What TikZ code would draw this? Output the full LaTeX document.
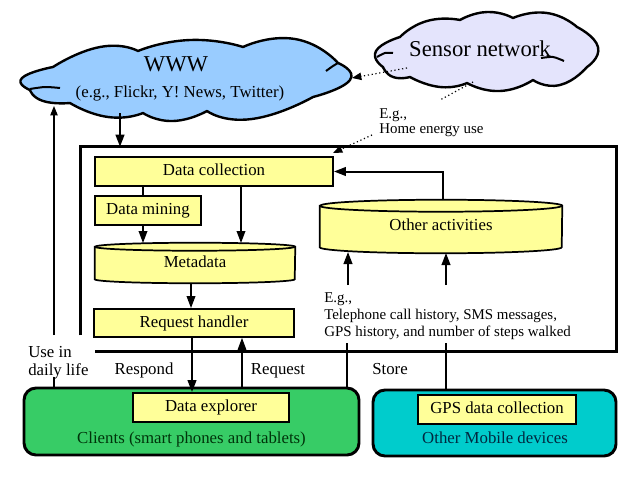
\documentclass[tikz,border=0pt]{standalone}
\usepackage{fontspec}
\setmainfont{Liberation Serif}
\usetikzlibrary{arrows.meta,backgrounds,calc}
\definecolor{ylw}{RGB}{255,255,153}
\definecolor{wwwc}{RGB}{153,204,255}
\definecolor{senc}{RGB}{228,228,252}
\definecolor{grn}{RGB}{55,204,102}
\definecolor{tealc}{RGB}{0,204,204}
\definecolor{clitxt}{RGB}{0,51,10}
\definecolor{mobtxt}{RGB}{0,40,64}
\newcommand\fmain{\fontsize{12.6}{15}\selectfont}
\newcommand\fbig{\fontsize{17}{20}\selectfont}
\newcommand\drawcyl[3]{%
  \begin{scope}[on background layer]
  \path[draw, line width=1.3pt, fill=ylw] ([yshift=-#2*0.75pt]#1.north west) -- ([yshift=#2*0.75pt]#1.south west)
    arc[start angle=180,end angle=360,x radius=#3*0.75pt,y radius=#2*0.75pt]
    -- ([yshift=-#2*0.75pt]#1.north east)
    arc[start angle=0,end angle=180,x radius=#3*0.75pt,y radius=#2*0.75pt] -- cycle;
  \draw[line width=1.3pt] ([yshift=-#2*0.75pt]#1.north west)
    arc[start angle=180,end angle=360,x radius=#3*0.75pt,y radius=#2*0.75pt];
  \end{scope}}
\newcommand\lobe[3]{-- plot[smooth, tension=1] coordinates {#1 #2 #3}}
\begin{document}
\begin{tikzpicture}[x=0.75pt,y=-0.75pt,
  tx/.style={text height=0.66em, text depth=0pt, inner sep=0pt},
  ybox/.style={tx, draw, line width=1.4pt, fill=ylw, font=\fmain},
  cylbase/.style={tx, font=\fmain},
  rbox/.style={draw, line width=2.2pt, rounded corners=9pt, inner sep=0pt},
  arr/.style={line width=1.1pt, -{Triangle[length=9pt,width=6.5pt]}},
  sarr/.style={line width=0.8pt, -{Triangle[length=7pt,width=5.5pt]}},
  dots/.style={dotted, line width=0.9pt},
  cloudline/.style={line width=1.8pt, line join=round},
  innerline/.style={line width=1.5pt}
]
\useasboundingbox (0,0) rectangle (631,478);

% clouds
\node[inner sep=0pt, minimum width={327*0.75pt}, minimum height={79*0.75pt}] (www) at (186.5,80.5) {};
\draw[cloudline, fill=wwwc] (30,90)
  \lobe{(30,90)}{(22,78)}{(53,67)}
  \lobe{(53,67)}{(100,47)}{(138,51)}
  \lobe{(138,51)}{(190,40)}{(243,47)}
  \lobe{(243,47)}{(295,39)}{(338,63)}
  \lobe{(338,63)}{(350,80)}{(313,97)}
  \lobe{(313,97)}{(252,119)}{(207,111)}
  \lobe{(207,111)}{(173,121)}{(143,113)}
  \lobe{(143,113)}{(108,117)}{(70,103)}
  \lobe{(70,103)}{(43,101)}{(30,90)} -- cycle;
\draw[innerline] plot[smooth] coordinates {(30,89) (45,87) (60,88)};
\draw[innerline] plot[smooth] coordinates {(326,71) (333,66) (338,63)};
\node[tx, font=\fbig] (wwwt) at (176,67) {WWW};
\node[tx, font=\fmain] (wwws) at (180,93) {(e.g., Flickr, Y! News, Twitter)};

\node[inner sep=0pt, minimum width={221*0.75pt}, minimum height={77*0.75pt}] (sen) at (486.5,51) {};
\draw[cloudline, fill=senc] (383,67)
  \lobe{(383,67)}{(376,51)}{(400,37)}
  \lobe{(400,37)}{(427,21)}{(460,20)}
  \lobe{(460,20)}{(487,12)}{(513,18)}
  \lobe{(513,18)}{(547,13)}{(577,27)}
  \lobe{(577,27)}{(598,47)}{(587,67)}
  \lobe{(587,67)}{(560,85)}{(533,80)}
  \lobe{(533,80)}{(500,91)}{(467,83)}
  \lobe{(467,83)}{(440,87)}{(410,77)}
  \lobe{(410,77)}{(393,77)}{(383,67)} -- cycle;
\draw[innerline] plot[smooth] coordinates {(377,57) (385,53) (393,53)};
\draw[innerline] plot[smooth] coordinates {(541,58) (553,57) (564,61)};
\node[tx, font=\fbig] (sent) at (480,52) {Sensor network};

% main box
\node[minimum width={535*0.75pt}, minimum height={204*0.75pt}, inner sep=0pt] (main) at (348.5,249) {};
\draw[line width=2.3pt, line join=miter] ([yshift=12pt]main.south west) -- (main.north west) -- (main.north east) -- (main.south east) -- ([xshift=10.5pt]main.south west);

% inner boxes
\node[ybox, minimum width={238*0.75pt}, minimum height={29*0.75pt}] (dc) at (214,171.5) {Data collection};
\node[ybox, minimum width={106*0.75pt}, minimum height={29*0.75pt}] (dm) at (148,210.5) {Data mining};
\node[cylbase, minimum width={200*0.75pt}, minimum height={40*0.75pt}] (meta) at (195,263) {Metadata};
\drawcyl{meta}{4}{100}
\node[ybox, minimum width={200*0.75pt}, minimum height={28*0.75pt}] (rh) at (194,323) {Request handler};
\node[cylbase, minimum width={242*0.75pt}, minimum height={53*0.75pt}] (oa) at (441,226.5) {Other activities};
\drawcyl{oa}{6}{121}

% bottom boxes
\node[rbox, fill=grn, minimum width={335*0.75pt}, minimum height={67*0.75pt}] (cli) at (191.5,421.5) {};
\node[tx, font=\fmain, text=clitxt] (clit) at (191.5,439) {Clients (smart phones and tablets)};
\node[ybox, minimum width={156*0.75pt}, minimum height={29*0.75pt}] (de) at (211,407.5) {Data explorer};
\node[rbox, fill=tealc, minimum width={243*0.75pt}, minimum height={66*0.75pt}] (mob) at (494.5,423) {};
\node[tx, font=\fmain, text=mobtxt] (mobt) at (495,439) {Other Mobile devices};
\node[ybox, minimum width={158*0.75pt}, minimum height={29*0.75pt}] (gps) at (497,409.5) {GPS data collection};

% labels
\node[tx, font=\fmain] (resp) at (144,370.5) {Respond};
\node[tx, font=\fmain] (req) at (278,370.5) {Request};
\node[tx, font=\fmain] (sto) at (390,370.5) {Store};
\node[inner sep=0pt, anchor=north west, align=left, font=\fontsize{12.6}{13.5}\selectfont] (use) at (28,346.5) {Use in\\daily life};
\node[inner sep=0pt, anchor=north west, align=left, font=\fontsize{11.2}{11.25}\selectfont] (home) at (379,108) {E.g.,\\Home energy use};
\node[inner sep=0pt, anchor=north west, align=left, font=\fontsize{11.2}{12.9}\selectfont] (tel) at (324,292) {E.g.,\\Telephone call history, SMS messages,\\GPS history, and number of steps walked};

% coordinates
\coordinate (w1) at (120,113);
\coordinate (u1) at (54,106);
\coordinate (ua) at (54,335);
\coordinate (ub) at (54,377);
\coordinate (s1) at (407,68);
\coordinate (s2) at (352,78);
\coordinate (h1) at (473,82);
\coordinate (h2) at (440,100);
\coordinate (h3) at (372,135);
\coordinate (h4) at (333,153);
\coordinate (t1) at (347,343);
\coordinate (t2) at (446,343);
\coordinate (t3) at (348,285);
\coordinate (t4) at (446,285);

% connectors
\draw[arr, line width=1.5pt] (w1) -- (w1 |- main.north);
\draw[sarr] (ua) -- (u1);
\draw[line width=0.8pt] (ub) -- (ub |- cli.north);
\draw[line width=1.1pt] (dc.south -| 143,0) -- (dm.north -| 143,0);
\draw[arr] (dm.south -| 143,0) -- (143,243);
\draw[arr] (dc.south -| 241,0) -- (241,243);
\draw[arr] (191,283) -- (rh.north -| 191,0);
\draw[arr, line width=1.6pt] (rh.south -| 192,0) -- (de.north -| 192,0);
\draw[arr, line width=0.8pt] (cli.north -| 242,0) -- (rh.south -| 242,0);
\draw[arr, line width=1.5pt] (443,200) |- (dc.east);
\draw[arr, line width=1.4pt] (t3) -- (348,252);
\draw[arr, line width=1.4pt] (t4) -- (446,253);
\draw[line width=0.8pt] (cli.north -| t1) -- (t1);
\draw[line width=0.8pt] (mob.north -| t2) -- (t2);
\draw[dots, -{Triangle[length=7pt,width=5.5pt]}] (s1) -- (s2);
\draw[dots] (h1) -- (h2);
\draw[dots, -{Triangle[length=7pt,width=5.5pt]}] (h3) -- (h4);
\end{tikzpicture}
\end{document}
